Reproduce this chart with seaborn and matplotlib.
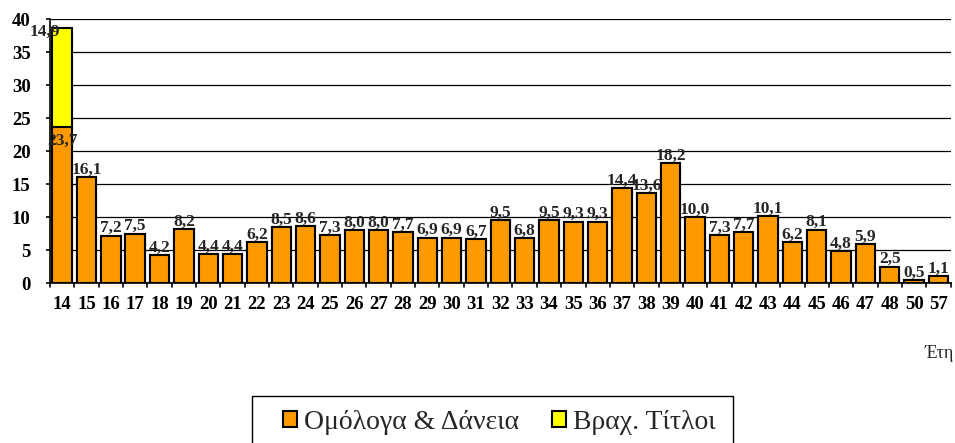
import pandas as pd
import seaborn as sns
import matplotlib.pyplot as plt
from matplotlib.patches import Patch, Rectangle

# Years to maturity (categories)
years = ['14', '15', '16', '17', '18', '19', '20', '21', '22', '23', '24', '25',
         '26', '27', '28', '29', '30', '31', '32', '33', '34', '35', '36', '37',
         '38', '39', '40', '41', '42', '43', '44', '45', '46', '47', '48', '50', '57']
# Bonds & loans
bonds = [23.7, 16.1, 7.2, 7.5, 4.2, 8.2, 4.4, 4.4, 6.2, 8.5, 8.6, 7.3,
         8.0, 8.0, 7.7, 6.9, 6.9, 6.7, 9.5, 6.8, 9.5, 9.3, 9.3, 14.4,
         13.6, 18.2, 10.0, 7.3, 7.7, 10.1, 6.2, 8.1, 4.8, 5.9, 2.5, 0.5, 1.1]
# Short-term bills
bills = [14.9] + [0.0] * 36

series_names = ['Ομόλογα & Δάνεια', 'Βραχ. Τίτλοι']
orange = '#FF9900'
yellow = '#FFFF00'

df = pd.DataFrame({'year': years, 'bonds': bonds, 'bills': bills})
df['total'] = df['bonds'] + df['bills']

sns.set_style('white')
plt.rcParams['font.family'] = ['Liberation Serif', 'DejaVu Serif']

fig = plt.figure(figsize=(9.55, 4.43), dpi=100)
ax = fig.add_axes([0.0524, 0.361, 0.943, 0.596])

# stacked bars: draw totals in yellow, then orange on top
sns.barplot(data=df, x='year', y='total', color=yellow, edgecolor='black',
            linewidth=1.5, width=0.8, saturation=1, ax=ax, zorder=3)
sns.barplot(data=df, x='year', y='bonds', color=orange, edgecolor='black',
            linewidth=1.5, width=0.8, saturation=1, ax=ax, zorder=4)

# data labels
lab = dict(fontsize=12.5, fontweight='bold', ha='center', zorder=6)
for i, (b, s) in enumerate(zip(bonds, bills)):
    txt = f'{b:.1f}'.replace('.', ',')
    if s > 0:
        ax.text(i, b - 0.9, txt, va='top', **lab)
        ax.text(i - 0.72, b + s - 0.6, f'{s:.1f}'.replace('.', ','),
                va='center', **lab)
    else:
        ax.text(i, b - 0.1, txt, va='bottom', **lab)

ax.set_ylim(0, 40)
ax.set_xlim(-0.5, len(years) - 0.5)
ax.set_yticks(range(0, 41, 5))
ax.yaxis.grid(True, color='black', linewidth=0.9)
ax.set_axisbelow(True)
for sp in ['top', 'right']:
    ax.spines[sp].set_visible(False)
for sp in ['left', 'bottom']:
    ax.spines[sp].set_color('black')
    ax.spines[sp].set_linewidth(1.2)

ax.set_xlabel('')
ax.set_ylabel('')
ax.tick_params(axis='x', labelsize=13.5, colors='black', length=0, pad=9)
ax.tick_params(axis='y', labelsize=13.5, colors='black', pad=11, left=True,
               length=3, width=1.2)
for t in ax.get_xticklabels() + ax.get_yticklabels():
    t.set_fontweight('bold')

# tick marks between categories on the x axis
for k in range(len(years) + 1):
    ax.plot([k - 0.5, k - 0.5], [0, -0.6], color='black', lw=1.2,
            clip_on=False, zorder=5)

fig.text(0.999, 0.203, 'Έτη', fontsize=13, ha='right', va='center')

handles = [Patch(facecolor=orange, edgecolor='black', linewidth=1.5),
           Patch(facecolor=yellow, edgecolor='black', linewidth=1.5)]
leg = fig.legend(handles, series_names, loc='center',
                 bbox_to_anchor=(0.523, 0.047), ncol=2, fontsize=20,
                 frameon=False,
                 handlelength=0.5, handleheight=0.5, handletextpad=0.25,
                 columnspacing=1.2, borderpad=0.3, borderaxespad=0)
# legend box, open at the bottom edge of the picture
fig.patches.append(Rectangle((252 / 955, -0.05), 481 / 955, 0.05 + 47 / 443,
                             transform=fig.transFigure, fill=False,
                             edgecolor='black', linewidth=1.0))

fig.savefig('out.png', dpi=100)
